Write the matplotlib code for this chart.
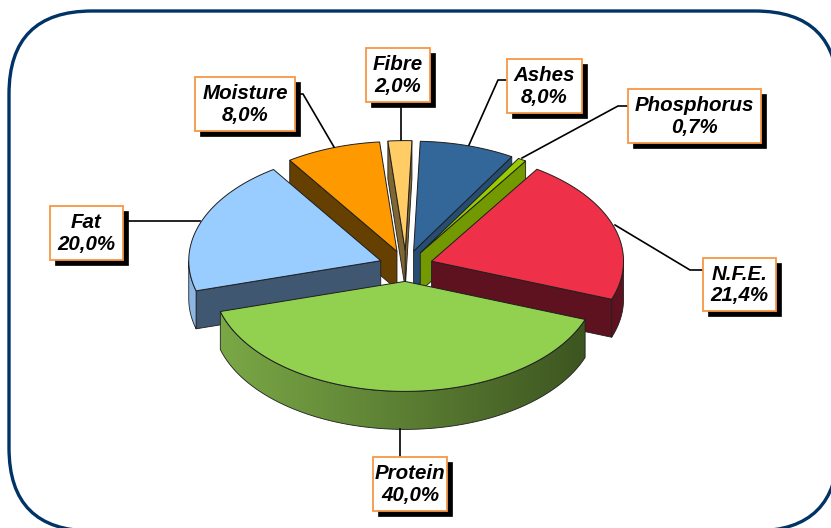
#!/usr/bin/env python3
"""Exploded 3D-look pie of feed composition, drawn with plain matplotlib patches."""

import matplotlib

matplotlib.use("Agg")
import matplotlib.pyplot as plt
import numpy as np
from matplotlib.colors import LinearSegmentedColormap
from matplotlib.patches import FancyBboxPatch, Polygon, Rectangle

# clockwise from the top
NAMES = ["Ashes", "Phosphorus", "N.F.E.", "Protein", "Fat", "Moisture", "Fibre"]
VALUES = [8.0, 0.7, 21.4, 40.0, 20.0, 8.0, 2.0]
VALUE_LABELS = ["8,0%", "0,7%", "21,4%", "40,0%", "20,0%", "8,0%", "2,0%"]

TOP_COLORS = ["#336699", "#99CC00", "#EE3048", "#92D14F", "#99CCFF", "#FF9900", "#FFCC66"]
CUT_COLORS = ["#264D73", "#739900", "#5E1220", "#6E9D3B", "#3F5770", "#664000", "#806633"]
RIM_LEFT = ["#264D73", "#739900", "#5E1220", "#80B04A", "#8DB8E6", "#664000", "#806633"]
RIM_RIGHT = ["#264D73", "#739900", "#5E1220", "#364C1C", "#7FA6D0", "#664000", "#806633"]

# pixel layout of the picture
CX, CY = 406, 266
RX, RY = 192, 110
DEPTH = 38
EXPLODE = 0.14
START_DEG = 2.0
DRAW_ORDER = [0, 6, 5, 1, 4, 2, 3]

BOXES = {
    "Ashes": (507, 59, 582, 113),
    "Phosphorus": (628, 89, 761, 143),
    "N.F.E.": (703, 258, 776, 311),
    "Protein": (373, 457, 447, 511),
    "Fat": (50, 206, 123, 260),
    "Moisture": (195, 77, 295, 131),
    "Fibre": (366, 48, 430, 102),
}
LEADERS = {
    "Ashes": [(507, 80), (498, 80), (469, 145)],
    "Phosphorus": [(628, 106), (618, 106), (522, 158)],
    "N.F.E.": [(703, 270), (690, 270), (615, 225)],
    "Protein": [(400, 429), (400, 457)],
    "Fat": [(123, 221), (200, 221)],
    "Moisture": [(295, 94), (303, 94), (334, 147)],
    "Fibre": [(401, 102), (401, 140)],
}


def rim_points(t, tip):
    return tip[0] + RX * np.sin(t), tip[1] - RY * np.cos(t)


def draw_slice(ax, t0, t1, top, cut, rim_a, rim_b, z):
    mid = (t0 + t1) / 2
    tip = (CX + EXPLODE * RX * np.sin(mid), CY - EXPLODE * RY * np.cos(mid))
    edge = "#1E1E1E"

    # radial cut faces, only the ones turned to the viewer
    for t, visible in ((t0, np.sin(t0) < -1e-6), (t1, np.sin(t1) > 1e-6)):
        if visible:
            x, y = rim_points(t, tip)
            quad = [tip, (x, y), (x, y + DEPTH), (tip[0], tip[1] + DEPTH)]
            ax.add_patch(Polygon(quad, closed=True, fc=cut, ec=edge, lw=0.6, zorder=z))

    # outer wall: a left to right gradient clipped to the wall outline
    ts = np.linspace(t0, t1, 241)
    ts = ts[np.cos(ts) < 0.0]
    if len(ts) > 1:
        xs, ys = rim_points(ts, tip)
        wall_pts = list(zip(xs, ys)) + list(zip(xs[::-1], ys[::-1] + DEPTH))
        wall = Polygon(wall_pts, closed=True, fc="none", ec=edge, lw=0.6, zorder=z + 0.2)
        ax.add_patch(wall)
        cmap = LinearSegmentedColormap.from_list("wall", [rim_a, rim_b])
        x_lo, x_hi = CX - RX - 30, CX + RX + 30
        im = ax.imshow(
            np.linspace(0, 1, 256).reshape(1, -1),
            extent=(x_lo, x_hi, CY + RY + 80, CY - RY - 80),
            cmap=cmap,
            vmin=0,
            vmax=1,
            aspect="auto",
            zorder=z + 0.1,
        )
        im.set_clip_path(wall)

    # top face
    ts = np.linspace(t0, t1, 121)
    xs, ys = rim_points(ts, tip)
    outline = [tip] + list(zip(xs, ys))
    ax.add_patch(Polygon(outline, closed=True, fc=top, ec=edge, lw=0.7, zorder=z + 0.5))


def main():
    fig = plt.figure(figsize=(8.31, 5.28), dpi=100)
    ax = fig.add_axes([0, 0, 1, 1])

    # frame runs off the right and bottom of the picture
    ax.add_patch(
        FancyBboxPatch(
            (9 + 83, 11 + 83),
            838 - 9 - 166,
            531 - 11 - 166,
            boxstyle="round,pad=83,rounding_size=83",
            fc="white",
            ec="#003366",
            lw=2.4,
            zorder=0,
        )
    )

    edges = np.cumsum([0.0] + VALUES) / sum(VALUES) * 2 * np.pi + np.radians(START_DEG)
    for z, i in enumerate(DRAW_ORDER):
        draw_slice(
            ax,
            edges[i],
            edges[i + 1],
            TOP_COLORS[i],
            CUT_COLORS[i],
            RIM_LEFT[i],
            RIM_RIGHT[i],
            2 + z,
        )

    for name, label in zip(NAMES, VALUE_LABELS):
        pts = LEADERS[name]
        ax.plot([p[0] for p in pts], [p[1] for p in pts], color="black", lw=1.2, zorder=20)
        x0, y0, x1, y1 = BOXES[name]
        ax.add_patch(Rectangle((x0 + 5, y0 + 5), x1 - x0, y1 - y0, fc="black", ec="black", lw=0.5, zorder=21))
        ax.add_patch(Rectangle((x0, y0), x1 - x0, y1 - y0, fc="white", ec="#F79646", lw=1.3, zorder=22))
        ax.text(
            (x0 + x1) / 2,
            (y0 + y1) / 2 + 0.5,
            f"{name}\n{label}",
            ha="center",
            va="center",
            family=["Liberation Sans", "DejaVu Sans"],
            fontsize=14.8,
            fontweight="bold",
            fontstyle="italic",
            linespacing=1.17,
            zorder=23,
        )

    ax.set_xlim(0, 831)
    ax.set_ylim(528, 0)
    ax.axis("off")
    fig.savefig("out.png", dpi=100)
    plt.close(fig)


if __name__ == "__main__":
    main()
